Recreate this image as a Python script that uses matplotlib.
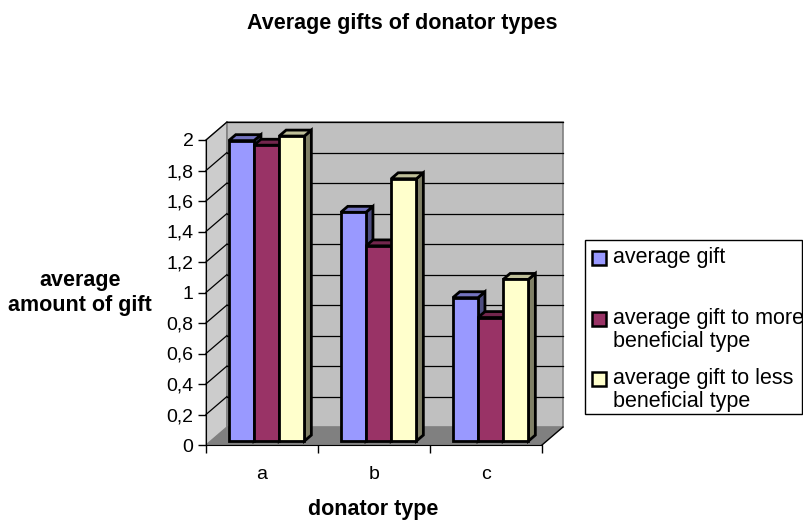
import numpy as np
import matplotlib.pyplot as plt
from matplotlib.patches import Polygon, Rectangle

plt.rcParams['font.family'] = ['Liberation Sans', 'DejaVu Sans']

# Data
categories = ["a", "b", "c"]
series_names = ["average gift",
                "average gift to more\nbeneficial type",
                "average gift to less\nbeneficial type"]
avg_gift = [1.97, 1.50, 0.94]
avg_gift_more = [1.94, 1.28, 0.81]
avg_gift_less = [2.00, 1.72, 1.06]
y_ticks = [0, 0.2, 0.4, 0.6, 0.8, 1.0, 1.2, 1.4, 1.6, 1.8, 2.0]

series = [avg_gift, avg_gift_more, avg_gift_less]
# front, top, side colours
colors = [("#9999FF", "#7373BF", "#4D4D80"),
          ("#993366", "#73264D", "#4D1A33"),
          ("#FFFFCC", "#BFBF99", "#808066")]

W, H = 804, 523
fig = plt.figure(figsize=(W / 100, H / 100), dpi=100)

def fpx(x, y):
    return x / W, 1 - y / H

# 3D look: depth offset in data units
DX = 21 / 112
DY = 18 / 152.5
ymax = y_ticks[-1]
ncat = len(categories)

ax = fig.add_axes([206 / W, (H - 445) / H, 357 / W, 323 / H])
ax.set_xlim(0, ncat + DX)
ax.set_ylim(0, ymax + DY)
ax.patch.set_visible(False)

# walls and floor
left_wall = Polygon([(0, 0), (0, ymax), (DX, ymax + DY), (DX, DY)],
                    facecolor="#CCCCCC", edgecolor="#808080", lw=1, zorder=0)
back_wall = Polygon([(DX, DY), (ncat + DX, DY), (ncat + DX, ymax + DY), (DX, ymax + DY)],
                    facecolor="#C0C0C0", edgecolor="#808080", lw=1.2, zorder=0)
floor = Polygon([(0, 0), (ncat, 0), (ncat + DX, DY), (DX, DY)],
                facecolor="#808080", edgecolor="none", zorder=1)
for p in (left_wall, back_wall, floor):
    p.set_clip_on(False)
    ax.add_patch(p)
ax.plot([ncat, ncat + DX], [0, DY], color="black", lw=1, zorder=1, clip_on=False)

# gridlines on back and left wall
for v in y_ticks[1:]:
    ax.plot([DX, ncat + DX], [v + DY, v + DY], color="black", lw=0.9, zorder=2, clip_on=False)
    ax.plot([0, DX], [v, v + DY], color="black", lw=0.9, zorder=2, clip_on=False)

# bars
bw = 0.225
f0, f1 = 0.22, 0.55
d = f1 - f0
b0 = f0 * DY
order = 0
for i in range(ncat):
    for j, vals in enumerate(series):
        v = vals[i]
        x0 = i + 0.5 - 1.5 * bw + j * bw + f0 * DX
        x1 = x0 + bw
        front, top, side = colors[j]
        z = 10 + 3 * order
        side_poly = Polygon([(x1, b0), (x1, b0 + v), (x1 + d * DX, b0 + v + d * DY),
                             (x1 + d * DX, b0 + d * DY)],
                            facecolor=side, edgecolor="black", lw=2, zorder=z,
                            joinstyle="miter", clip_on=False)
        top_poly = Polygon([(x0, b0 + v), (x1, b0 + v), (x1 + d * DX, b0 + v + d * DY),
                            (x0 + d * DX, b0 + v + d * DY)],
                           facecolor=top, edgecolor="black", lw=2, zorder=z + 1,
                           joinstyle="miter", clip_on=False)
        ax.add_patch(side_poly)
        ax.add_patch(top_poly)
        ax.bar(x0, v, width=bw, bottom=b0, align="edge", color=front,
               edgecolor="black", linewidth=2, zorder=z + 2, clip_on=False)
        order += 1

# axes styling
for s in ("top", "right"):
    ax.spines[s].set_visible(False)
ax.spines["left"].set_bounds(0, ymax)
ax.spines["bottom"].set_bounds(0, ncat)
ax.spines["left"].set_zorder(3)
ax.spines["bottom"].set_zorder(3)

ax.set_yticks(y_ticks)
ax.set_yticklabels([("%g" % t).replace(".", ",") for t in y_ticks], fontsize=14)
ax.set_xticks(range(ncat + 1))
ax.set_xticklabels([])
ax.set_xticks([i + 0.5 for i in range(ncat)], minor=True)
ax.set_xticklabels(categories, minor=True, fontsize=14)
ax.tick_params(axis="both", which="major", direction="out", length=6, width=1)
ax.tick_params(axis="x", which="minor", length=0, pad=15)
ax.tick_params(axis="y", pad=3)

# titles
fig.text(*fpx(402, 24), "Average gifts of donator types", ha="center", va="center",
         fontsize=15.5, fontweight="bold")
fig.text(*fpx(80, 293), "average\namount of gift", ha="center", va="center",
         fontsize=15.5, fontweight="bold", multialignment="center", linespacing=1.2)
fig.text(*fpx(373, 509), "donator type", ha="center", va="center",
         fontsize=15.5, fontweight="bold")

# legend
lx0, ly0, lx1, ly1 = 585, 240, 802, 414
fig.patches.append(Rectangle(fpx(lx0, ly1), (lx1 - lx0) / W, (ly1 - ly0) / H,
                             transform=fig.transFigure, facecolor="white",
                             edgecolor="black", lw=1))
entry_y = [258, 319, 379]
for j, name in enumerate(series_names):
    sy = entry_y[j]
    fig.patches.append(Rectangle(fpx(592, sy + 7), 14 / W, 14 / H,
                                 transform=fig.transFigure, facecolor=colors[j][0],
                                 edgecolor="black", lw=1.8))
    fig.text(*fpx(613, sy - 11), name, ha="left", va="top", fontsize=15.5,
             linespacing=1.1)

fig.savefig("out.png", dpi=100)
